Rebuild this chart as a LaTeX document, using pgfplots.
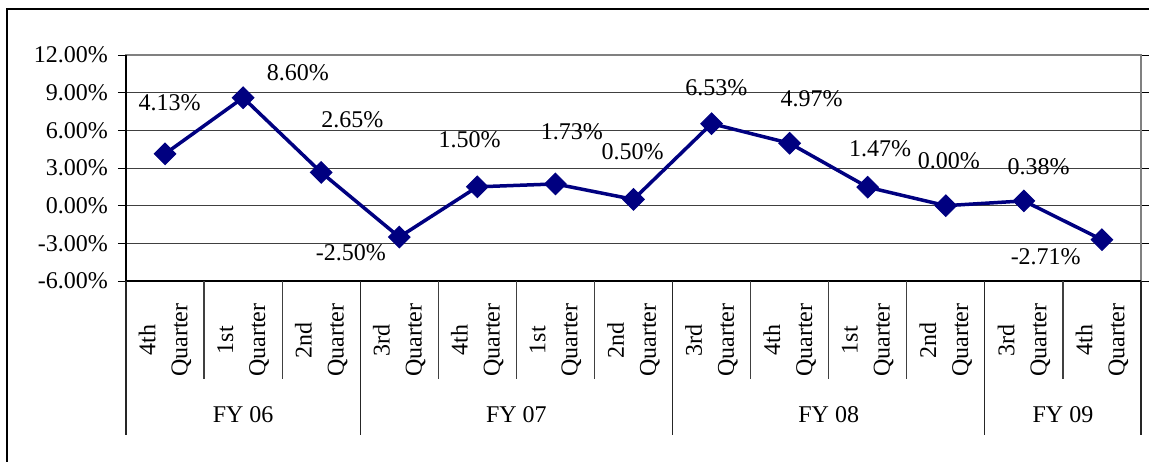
\documentclass[border=0pt]{standalone}
\usepackage{pgfplots}
\pgfplotsset{compat=1.18}
\usepackage{fontspec}
\setmainfont{Liberation Serif}
\definecolor{navyline}{RGB}{0,0,128}
\definecolor{gridc}{RGB}{64,64,64}
\definecolor{framec}{RGB}{128,128,128}
\tikzset{rotlab/.style={rotate=90, align=center, inner sep=0pt, font=\fontsize{24}{32}\selectfont}}
\begin{document}
\fontsize{24}{28}\selectfont
\begin{tikzpicture}
\useasboundingbox (-126pt,-180pt) rectangle (1023pt,281pt);
\draw[black, line width=1.3pt] (-119pt,-181pt) -- (-119pt,272pt) -- (1024pt,272pt);
\begin{axis}[
  at={(0,0)}, anchor=south west,
  scale only axis, width=1015pt, height=226pt,
  xmin=-0.5, xmax=12.5, ymin=-6, ymax=12,
  clip=false,
  xtick=\empty,
  ytick={-6,-3,0,3,6,9,12},
  yticklabels={-6.00\%,-3.00\%,0.00\%,3.00\%,6.00\%,9.00\%,12.00\%},
  ymajorgrids,
  grid style={gridc, line width=0.9pt},
  axis line style={framec, line width=1.8pt},
  tick align=outside,
  major tick length=8pt,
  ytick style={black, line width=0.9pt},
  yticklabel style={font=\fontsize{24}{28}\selectfont, inner sep=0pt, xshift=-10pt},
]
\addplot[navyline, line width=3.5pt, mark=square*, mark size=7.6pt,
  mark options={fill=navyline, draw=navyline, line width=1pt, rotate=45}]
  coordinates {
  (0,4.13) (1,8.60) (2,2.65) (3,-2.50) (4,1.50) (5,1.73) (6,0.50)
  (7,6.53) (8,4.97) (9,1.47) (10,0.00) (11,0.38) (12,-2.71)
  };
% left and bottom axis lines in black
\draw[black, line width=1.3pt] (axis cs:-0.5,12) -- (axis cs:-0.5,-6) -- (axis cs:12.5,-6);
% category separators
\pgfplotsinvokeforeach{0.5,1.5,3.5,4.5,5.5,7.5,8.5,9.5,11.5}{
  \draw[gridc, line width=1.2pt] (axis cs:#1,-6) -- ([yshift=-98pt]axis cs:#1,-6);
}
\pgfplotsinvokeforeach{-0.5,2.5,6.5,10.5,12.5}{
  \draw[black!85, line width=1.2pt] (axis cs:#1,-6) -- ([yshift=-154pt]axis cs:#1,-6);
}
% category labels
\node[rotlab] at ([yshift=-59pt]axis cs:0,-6) {4th\\Quarter};
\node[rotlab] at ([yshift=-59pt]axis cs:1,-6) {1st\\Quarter};
\node[rotlab] at ([yshift=-59pt]axis cs:2,-6) {2nd\\Quarter};
\node[rotlab] at ([yshift=-59pt]axis cs:3,-6) {3rd\\Quarter};
\node[rotlab] at ([yshift=-59pt]axis cs:4,-6) {4th\\Quarter};
\node[rotlab] at ([yshift=-59pt]axis cs:5,-6) {1st\\Quarter};
\node[rotlab] at ([yshift=-59pt]axis cs:6,-6) {2nd\\Quarter};
\node[rotlab] at ([yshift=-59pt]axis cs:7,-6) {3rd\\Quarter};
\node[rotlab] at ([yshift=-59pt]axis cs:8,-6) {4th\\Quarter};
\node[rotlab] at ([yshift=-59pt]axis cs:9,-6) {1st\\Quarter};
\node[rotlab] at ([yshift=-59pt]axis cs:10,-6) {2nd\\Quarter};
\node[rotlab] at ([yshift=-59pt]axis cs:11,-6) {3rd\\Quarter};
\node[rotlab] at ([yshift=-59pt]axis cs:12,-6) {4th\\Quarter};
\node at ([yshift=-134pt]axis cs:1,-6) {FY 06};
\node at ([yshift=-134pt]axis cs:4.5,-6) {FY 07};
\node at ([yshift=-134pt]axis cs:8.5,-6) {FY 08};
\node at ([yshift=-134pt]axis cs:11.5,-6) {FY 09};
% data labels
\node at (axis cs:0.06,8.19) {4.13\%};
\node at (axis cs:1.70,10.57) {8.60\%};
\node at (axis cs:2.40,6.84) {2.65\%};
\node at (axis cs:2.38,-3.76) {-2.50\%};
\node at (axis cs:3.90,5.25) {1.50\%};
\node at (axis cs:5.21,5.88) {1.73\%};
\node at (axis cs:5.99,4.29) {0.50\%};
\node at (axis cs:7.06,9.38) {6.53\%};
\node at (axis cs:8.28,8.51) {4.97\%};
\node at (axis cs:9.16,4.53) {1.47\%};
\node at (axis cs:10.04,3.58) {0.00\%};
\node at (axis cs:11.19,3.10) {0.38\%};
\node at (axis cs:11.28,-4.05) {-2.71\%};
\end{axis}
\end{tikzpicture}
\end{document}
